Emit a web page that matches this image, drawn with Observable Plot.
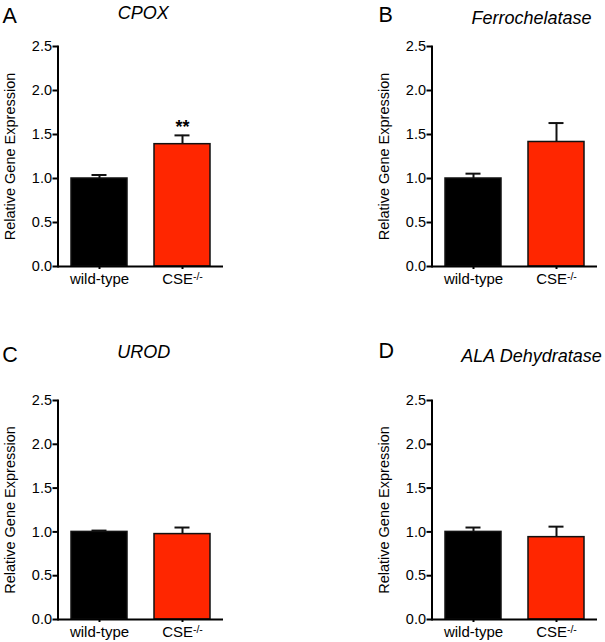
<!DOCTYPE html>
<html><head><meta charset="utf-8">
<script src="https://cdn.jsdelivr.net/npm/d3@7"></script>
<script src="https://cdn.jsdelivr.net/npm/@observablehq/plot@0.6"></script>
<style>
body{margin:0;background:#fff;}
#root{position:relative;width:605px;height:642px;font-family:"Liberation Sans",Arial,sans-serif;overflow:hidden;}
.panel{position:absolute;}
#overlay{position:absolute;left:0;top:0;pointer-events:none;}
</style></head><body><div id="root"></div>
<script>
const panelLetters = ["A", "B", "C", "D"];
const geneNames = ["CPOX", "Ferrochelatase", "UROD", "ALA Dehydratase"];
const groups = ["wild-type", "CSE-/-"];
const wildTypeMean = [1.00, 1.00, 1.00, 1.00];
const wildTypeSEM = [0.04, 0.055, 0.015, 0.05];
const cseMean = [1.39, 1.415, 0.975, 0.94];
const cseSEM = [0.10, 0.215, 0.075, 0.12];
const significance = ["**", "", "", ""];
const yTicks = [0, 0.5, 1.0, 1.5, 2.0, 2.5];
const yLabel = "Relative Gene Expression";
const groupColors = ["#000000", "#ff2600"];

// layout
const panelLeft = [0, 373.5, 0, 374];
const panelTop = [0, 0, 354, 354];
const panelHeight = [300, 300, 288, 288];
const letterPos = [[2.5, 22.5], [378.5, 21.7], [2.3, 361.5], [378.5, 358.3]];
const titlePos = [[143.3, 19.3], [531.5, 24], [143.7, 357.7], [531.5, 361.5]];

const root = document.getElementById("root");
const FONT = "Liberation Sans, Arial, Helvetica, sans-serif";

function makePanel(i) {
  const data = groups.map((g, j) => ({
    group: g,
    mean: j ? cseMean[i] : wildTypeMean[i],
    sem: j ? cseSEM[i] : wildTypeSEM[i],
    sig: j ? significance[i] : ""
  }));
  const top = i < 2;
  const svg = Plot.plot({
    width: 232,
    height: panelHeight[i],
    marginLeft: 57.5,
    marginRight: 9,
    marginTop: 46,
    marginBottom: top ? 34 : 23,
    style: {fontFamily: FONT, fontSize: "14px", color: "#000", background: "transparent", overflow: "visible"},
    x: {domain: groups, paddingInner: 0.33, paddingOuter: 0.16},
    y: {domain: [0, 2.5]},
    color: {domain: groups, range: groupColors},
    marks: [
      Plot.ruleX(data, {x: "group", y1: "mean", y2: d => d.mean + d.sem, stroke: "#111", strokeWidth: 2}),
      Plot.tickY(data, {x: "group", y: d => d.mean + d.sem, stroke: "#111", strokeWidth: 2, insetLeft: 20.5, insetRight: 20.5}),
      Plot.barY(data, {x: "group", y: "mean", fill: "group", stroke: "#111", strokeWidth: 1.5}),
      Plot.text(data, {x: "group", y: d => d.mean + d.sem, text: "sig", dy: -2, lineAnchor: "bottom", fontSize: 18, fontWeight: "bold"}),
      Plot.axisY({ticks: yTicks, tickFormat: d3.format(".1f"), tickSize: 5, tickPadding: 1, strokeWidth: 2,
        label: yLabel, labelAnchor: "center", labelOffset: 53, labelArrow: "none", fontSize: 14.5}),
      Plot.axisX({tickSize: 3, tickPadding: 4, strokeWidth: 2, label: null, fontSize: 15}),
      Plot.ruleY([0], {strokeWidth: 2}),
      Plot.frame({anchor: "left", strokeWidth: 2})
    ]
  });
  // superscript for CSE-/-
  svg.querySelectorAll("text").forEach(t => {
    if (t.textContent === "CSE-/-" && t.children.length === 0) {
      t.textContent = "CSE";
      const ts = document.createElementNS("http://www.w3.org/2000/svg", "tspan");
      ts.setAttribute("dy", "-0.42em");
      ts.setAttribute("font-size", "10.5px");
      ts.textContent = "-/-";
      t.appendChild(ts);
    }
  });
  svg.classList.add("panel");
  svg.style.position = "absolute";
  svg.style.left = panelLeft[i] + "px";
  svg.style.top = panelTop[i] + "px";
  root.appendChild(svg);
}

for (let i = 0; i < 4; i++) makePanel(i);

// overlay with panel letters and titles
const ov = d3.select(root).append("svg").attr("id", "overlay").attr("width", 605).attr("height", 642)
  .attr("font-family", FONT);
ov.selectAll("text.letter").data(panelLetters).join("text").attr("class", "letter")
  .attr("x", (d, i) => letterPos[i][0]).attr("y", (d, i) => letterPos[i][1])
  .attr("font-size", 21.5).text(d => d);
ov.selectAll("text.title").data(geneNames).join("text").attr("class", "title")
  .attr("x", (d, i) => titlePos[i][0]).attr("y", (d, i) => titlePos[i][1])
  .attr("text-anchor", "middle").attr("font-size", 18).attr("font-style", "italic").text(d => d);
</script>
</body></html>
